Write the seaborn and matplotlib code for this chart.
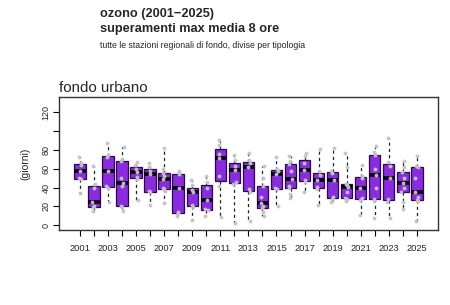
import numpy as np
import pandas as pd
import matplotlib
matplotlib.use("Agg")
import matplotlib.pyplot as plt
import seaborn as sns

years = list(range(2001, 2026))
values = [
    [34, 49, 50, 58, 64, 66, 72],
    [15, 19, 20, 25, 40, 44, 63],
    [25, 40, 42, 58, 72, 74, 87],
    [15, 19, 20, 42, 45, 50, 68, 70, 83],
    [27, 49, 51, 56, 60, 64, 67],
    [21, 35, 36, 54, 57, 62, 66],
    [24, 36, 38, 40, 49, 52, 55, 60, 82],
    [10, 13, 14, 39, 54, 55, 58],
    [6, 19, 21, 35, 37, 43, 48],
    [10, 16, 17, 27, 40, 46, 52],
    [9, 42, 52, 71, 76, 85, 90],
    [2, 44, 46, 59, 63, 69, 75],
    [4, 35, 38, 62, 66, 69, 77],
    [10, 14, 18, 20, 24, 30, 42, 50, 63],
    [20, 38, 39, 54, 57, 60, 72],
    [29, 33, 39, 42, 49, 58, 65, 68, 73],
    [35, 46, 48, 59, 66, 73, 77],
    [22, 38, 41, 48, 53, 58, 81],
    [25, 28, 30, 48, 55, 57, 82],
    [26, 28, 29, 35, 41, 43, 44, 62, 77],
    [11, 27, 29, 39, 50, 52, 64],
    [8, 26, 28, 40, 53, 60, 74, 78, 84],
    [8, 25, 28, 50, 63, 67, 92],
    [17, 25, 35, 40, 45, 50, 56, 62, 68],
    [4, 26, 27, 30, 35, 50, 62, 63, 73],
]
y_ticks = [0, 20, 40, 60, 80, 100, 120]
y_ticklabels = ["0", "20", "40", "60", "80", "", "120"]

rows = [(str(y), v) for y, vals in zip(years, values) for v in vals]
df = pd.DataFrame(rows, columns=["year", "giorni"])
order = [str(y) for y in years]

sns.set_style("white")
plt.rcParams["font.family"] = ["Liberation Sans", "DejaVu Sans"]

fig = plt.figure(figsize=(4.5, 3.05), dpi=100)
ax = fig.add_axes([0.131, 0.246, 0.842, 0.436])

sns.boxplot(data=df, x="year", y="giorni", order=order, ax=ax,
            whis=(0, 100), width=0.82, color="#8A2BE2", saturation=1,
            linecolor="#2b0b45", linewidth=0.9, showfliers=False,
            showcaps=False,
            medianprops=dict(color="black", linewidth=2.6),
            whiskerprops=dict(linestyle=(0, (2.5, 2.5)), color="#222222", linewidth=0.9))
np.random.seed(3)
sns.stripplot(data=df, x="year", y="giorni", order=order, ax=ax,
              jitter=0.12, color="#c4c4c4", size=2.8, alpha=0.95, linewidth=0)

ax.set_xlim(-1.5, 25.5)
ax.set_ylim(-5, 136)
ax.set_yticks(y_ticks)
ax.set_yticklabels(y_ticklabels, rotation=90, va="center", fontsize=6.5)
ax.set_xticks(range(len(years)))
ax.set_xticklabels([str(y) if i % 2 == 0 else "" for i, y in enumerate(years)], fontsize=6.7)
ax.tick_params(axis="both", direction="out", length=4, width=0.8, color="black",
               bottom=True, left=True, pad=2)
ax.tick_params(axis="x", pad=6)
ax.set_xlabel("")
ax.set_ylabel("(giorni)", fontsize=7.5, labelpad=8)
for s in ax.spines.values():
    s.set_color("#333333")
    s.set_linewidth(1.0)

fig.text(100 / 450, 1 - 14 / 305, "ozono (2001\u22122025)", fontsize=9.2, fontweight="bold",
         ha="left", va="center")
fig.text(100 / 450, 1 - 29 / 305, "superamenti max media 8 ore", fontsize=9.2, fontweight="bold",
         ha="left", va="center")
fig.text(100 / 450, 1 - 46 / 305, "tutte le stazioni regionali di fondo, divise per tipologia",
         fontsize=6.3, ha="left", va="center")
ax.text(0.0, 1.012, "fondo urbano", transform=ax.transAxes, fontsize=10.8,
        ha="left", va="bottom")

fig.savefig("out.png", dpi=100)
